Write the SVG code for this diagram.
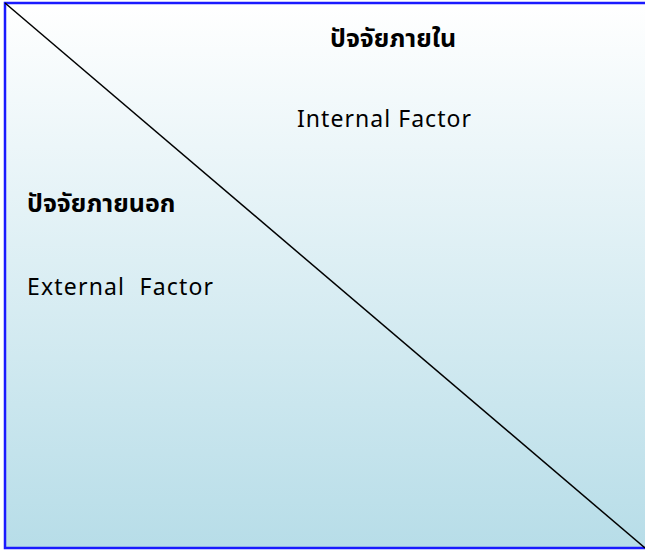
<svg xmlns="http://www.w3.org/2000/svg" width="645" height="550" viewBox="0 0 645 550">
<defs>
<linearGradient id="bg" x1="0" y1="0" x2="0" y2="1">
<stop offset="0" stop-color="#FFFFFF"/>
<stop offset="1" stop-color="#B7DDE8"/>
</linearGradient>
<style>
.t{font-family:"Noto Sans","Noto Sans Thai","DejaVu Sans",sans-serif;fill:#000;}
.th{font-size:25px;font-weight:bold;}
.en{font-size:23px;white-space:pre;}
</style>
</defs>
<g id="frame">
<rect x="5" y="3" width="645" height="545" fill="url(#bg)" stroke="#1A1AFF" stroke-width="2.5"/>
</g>
<g id="connectors">
<line x1="5" y1="3" x2="645" y2="548" stroke="#000" stroke-width="1.5"/>
</g>
<g id="internal">
<text class="t th" x="330" y="47">ปัจจัยภายใน</text>
<text class="t en" x="297" y="127" textLength="174" lengthAdjust="spacing">Internal Factor</text>
</g>
<g id="external">
<text class="t th" x="27" y="212">ปัจจัยภายนอก</text>
<text class="t en" x="27" y="295" xml:space="preserve" textLength="186" lengthAdjust="spacing">External  Factor</text>
</g>
</svg>
